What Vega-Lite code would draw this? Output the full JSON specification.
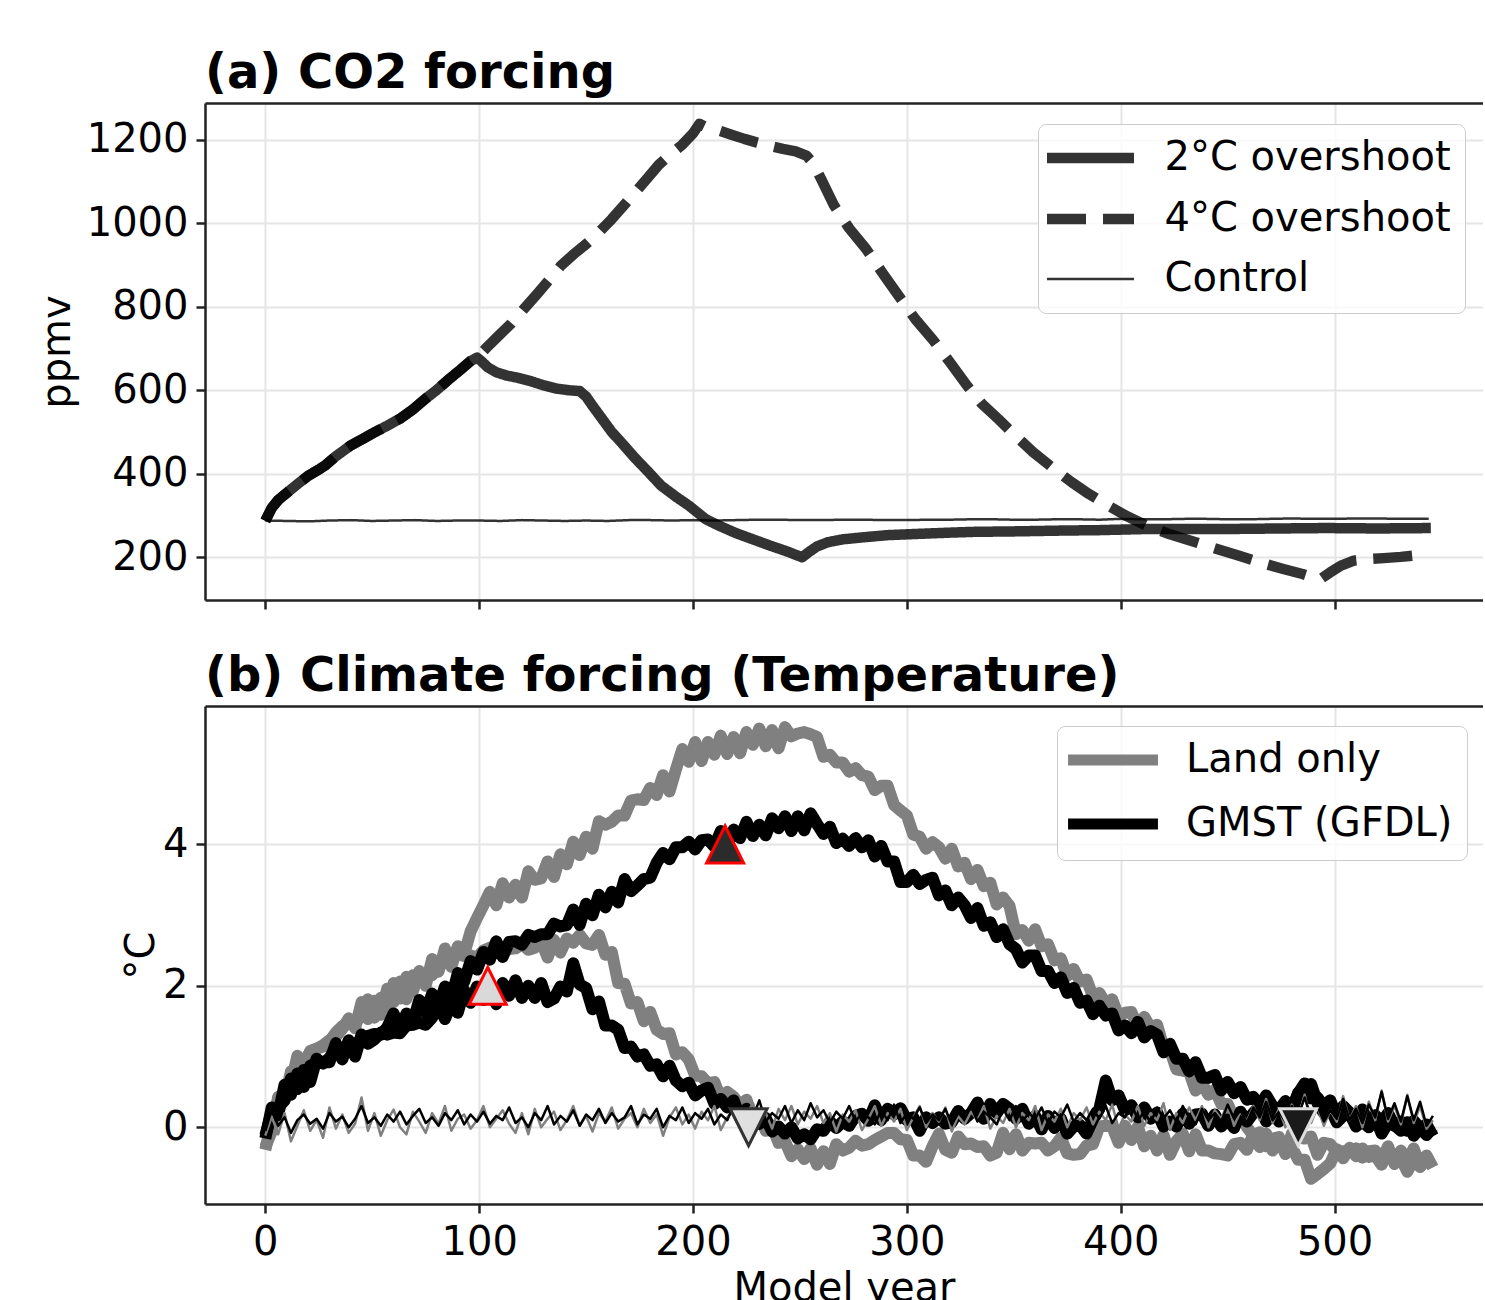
{
"$schema": "https://vega.github.io/schema/vega-lite/v6.json",
"background": "white",
"padding": {"left": 37, "top": 50, "right": 0, "bottom": 0},
"bounds": "flush",
"spacing": 106,
"resolve": {"scale": {"color": "independent", "strokeDash": "independent", "fill": "independent", "stroke": "independent", "shape": "independent"}, "legend": {"color": "independent", "strokeDash": "independent", "fill": "independent", "stroke": "independent", "shape": "independent"}},
"config": {
"font": "DejaVu Sans",
"view": {"stroke": null},
"axis": {"labelFont": "DejaVu Sans", "labelFontSize": 40, "labelColor": "#000000", "titleFont": "DejaVu Sans", "titleFontSize": 40, "titleFontWeight": "normal", "titleColor": "#000000", "domainColor": "#222222", "domainWidth": 2.5, "tickColor": "#222222", "tickWidth": 2.5, "tickSize": 9, "gridColor": "#e5e5e5", "gridWidth": 2, "labelPadding": 8, "labelFlush": false, "labelOverlap": false},
"legend": {"labelFont": "DejaVu Sans", "labelFontSize": 40, "labelColor": "#000000", "labelLimit": 600},
"title": {"font": "DejaVu Sans", "fontSize": 48, "fontWeight": "bold", "color": "#000000", "anchor": "start", "frame": "group", "baseline": "alphabetic", "offset": 5}
},
"datasets": {
"co2": [
{"yr":0,"ppm":287,"s":"2°C overshoot"},{"yr":3,"ppm":318,"s":"2°C overshoot"},{"yr":6,"ppm":337,"s":"2°C overshoot"},{"yr":10,"ppm":354,"s":"2°C overshoot"},{"yr":15,"ppm":375,"s":"2°C overshoot"},{"yr":20,"ppm":395,"s":"2°C overshoot"},{"yr":25,"ppm":410,"s":"2°C overshoot"},{"yr":28,"ppm":420,"s":"2°C overshoot"},{"yr":33,"ppm":442,"s":"2°C overshoot"},{"yr":40,"ppm":468,"s":"2°C overshoot"},{"yr":45,"ppm":482,"s":"2°C overshoot"},{"yr":51,"ppm":499,"s":"2°C overshoot"},{"yr":57,"ppm":515,"s":"2°C overshoot"},{"yr":63,"ppm":532,"s":"2°C overshoot"},{"yr":69,"ppm":554,"s":"2°C overshoot"},{"yr":75,"ppm":580,"s":"2°C overshoot"},{"yr":80,"ppm":600,"s":"2°C overshoot"},{"yr":86,"ppm":627,"s":"2°C overshoot"},{"yr":91,"ppm":648,"s":"2°C overshoot"},{"yr":96,"ppm":670,"s":"2°C overshoot"},{"yr":99,"ppm":678,"s":"2°C overshoot"},
{"yr":101,"ppm":670,"s":"2°C overshoot"},{"yr":104,"ppm":655,"s":"2°C overshoot"},{"yr":108,"ppm":643,"s":"2°C overshoot"},{"yr":113,"ppm":635,"s":"2°C overshoot"},{"yr":118,"ppm":630,"s":"2°C overshoot"},{"yr":124,"ppm":622,"s":"2°C overshoot"},{"yr":130,"ppm":612,"s":"2°C overshoot"},{"yr":136,"ppm":604,"s":"2°C overshoot"},{"yr":142,"ppm":600,"s":"2°C overshoot"},{"yr":147,"ppm":598,"s":"2°C overshoot"},{"yr":150,"ppm":585,"s":"2°C overshoot"},{"yr":153,"ppm":563,"s":"2°C overshoot"},{"yr":157,"ppm":535,"s":"2°C overshoot"},{"yr":162,"ppm":500,"s":"2°C overshoot"},{"yr":167,"ppm":472,"s":"2°C overshoot"},{"yr":173,"ppm":437,"s":"2°C overshoot"},{"yr":179,"ppm":405,"s":"2°C overshoot"},{"yr":185,"ppm":372,"s":"2°C overshoot"},{"yr":192,"ppm":345,"s":"2°C overshoot"},{"yr":198,"ppm":324,"s":"2°C overshoot"},{"yr":206,"ppm":291,"s":"2°C overshoot"},{"yr":212,"ppm":276,"s":"2°C overshoot"},{"yr":220,"ppm":258,"s":"2°C overshoot"},{"yr":228,"ppm":243,"s":"2°C overshoot"},{"yr":236,"ppm":228,"s":"2°C overshoot"},{"yr":244,"ppm":214,"s":"2°C overshoot"},{"yr":251,"ppm":200,"s":"2°C overshoot"},{"yr":254,"ppm":212,"s":"2°C overshoot"},{"yr":258,"ppm":226,"s":"2°C overshoot"},{"yr":263,"ppm":236,"s":"2°C overshoot"},{"yr":270,"ppm":243,"s":"2°C overshoot"},{"yr":280,"ppm":248,"s":"2°C overshoot"},{"yr":291,"ppm":253,"s":"2°C overshoot"},{"yr":305,"ppm":256,"s":"2°C overshoot"},{"yr":320,"ppm":259,"s":"2°C overshoot"},{"yr":332,"ppm":261,"s":"2°C overshoot"},{"yr":350,"ppm":262,"s":"2°C overshoot"},{"yr":373,"ppm":264,"s":"2°C overshoot"},{"yr":390,"ppm":265,"s":"2°C overshoot"},{"yr":414,"ppm":268,"s":"2°C overshoot"},{"yr":435,"ppm":268,"s":"2°C overshoot"},{"yr":455,"ppm":268,"s":"2°C overshoot"},{"yr":475,"ppm":269,"s":"2°C overshoot"},{"yr":496,"ppm":270,"s":"2°C overshoot"},{"yr":520,"ppm":269,"s":"2°C overshoot"},{"yr":545,"ppm":270,"s":"2°C overshoot"},
{"yr":0,"ppm":287,"s":"4°C overshoot"},{"yr":3,"ppm":318,"s":"4°C overshoot"},{"yr":6,"ppm":337,"s":"4°C overshoot"},{"yr":10,"ppm":354,"s":"4°C overshoot"},{"yr":15,"ppm":375,"s":"4°C overshoot"},{"yr":20,"ppm":395,"s":"4°C overshoot"},{"yr":25,"ppm":410,"s":"4°C overshoot"},{"yr":28,"ppm":420,"s":"4°C overshoot"},{"yr":33,"ppm":442,"s":"4°C overshoot"},{"yr":40,"ppm":468,"s":"4°C overshoot"},{"yr":45,"ppm":482,"s":"4°C overshoot"},{"yr":51,"ppm":499,"s":"4°C overshoot"},{"yr":57,"ppm":515,"s":"4°C overshoot"},{"yr":63,"ppm":532,"s":"4°C overshoot"},{"yr":69,"ppm":554,"s":"4°C overshoot"},{"yr":75,"ppm":580,"s":"4°C overshoot"},{"yr":80,"ppm":600,"s":"4°C overshoot"},{"yr":86,"ppm":627,"s":"4°C overshoot"},{"yr":91,"ppm":648,"s":"4°C overshoot"},{"yr":96,"ppm":670,"s":"4°C overshoot"},{"yr":99,"ppm":678,"s":"4°C overshoot"},
{"yr":100,"ppm":683,"s":"4°C overshoot"},{"yr":104,"ppm":705,"s":"4°C overshoot"},{"yr":110,"ppm":735,"s":"4°C overshoot"},{"yr":115,"ppm":760,"s":"4°C overshoot"},{"yr":121,"ppm":795,"s":"4°C overshoot"},{"yr":127,"ppm":830,"s":"4°C overshoot"},{"yr":133,"ppm":866,"s":"4°C overshoot"},{"yr":138,"ppm":897,"s":"4°C overshoot"},{"yr":144,"ppm":925,"s":"4°C overshoot"},{"yr":150,"ppm":950,"s":"4°C overshoot"},{"yr":156,"ppm":978,"s":"4°C overshoot"},{"yr":162,"ppm":1010,"s":"4°C overshoot"},{"yr":168,"ppm":1045,"s":"4°C overshoot"},{"yr":174,"ppm":1080,"s":"4°C overshoot"},{"yr":179,"ppm":1110,"s":"4°C overshoot"},{"yr":184,"ppm":1140,"s":"4°C overshoot"},{"yr":189,"ppm":1163,"s":"4°C overshoot"},{"yr":195,"ppm":1188,"s":"4°C overshoot"},{"yr":200,"ppm":1215,"s":"4°C overshoot"},{"yr":203,"ppm":1238,"s":"4°C overshoot"},{"yr":207,"ppm":1228,"s":"4°C overshoot"},{"yr":212,"ppm":1222,"s":"4°C overshoot"},{"yr":218,"ppm":1212,"s":"4°C overshoot"},{"yr":224,"ppm":1202,"s":"4°C overshoot"},{"yr":230,"ppm":1193,"s":"4°C overshoot"},{"yr":236,"ppm":1185,"s":"4°C overshoot"},{"yr":242,"ppm":1178,"s":"4°C overshoot"},{"yr":248,"ppm":1172,"s":"4°C overshoot"},{"yr":253,"ppm":1162,"s":"4°C overshoot"},{"yr":256,"ppm":1145,"s":"4°C overshoot"},{"yr":260,"ppm":1105,"s":"4°C overshoot"},{"yr":266,"ppm":1042,"s":"4°C overshoot"},{"yr":273,"ppm":988,"s":"4°C overshoot"},{"yr":281,"ppm":938,"s":"4°C overshoot"},{"yr":289,"ppm":878,"s":"4°C overshoot"},{"yr":297,"ppm":820,"s":"4°C overshoot"},{"yr":304,"ppm":770,"s":"4°C overshoot"},{"yr":312,"ppm":722,"s":"4°C overshoot"},{"yr":320,"ppm":668,"s":"4°C overshoot"},{"yr":328,"ppm":612,"s":"4°C overshoot"},{"yr":335,"ppm":568,"s":"4°C overshoot"},{"yr":343,"ppm":530,"s":"4°C overshoot"},{"yr":351,"ppm":490,"s":"4°C overshoot"},{"yr":359,"ppm":452,"s":"4°C overshoot"},{"yr":368,"ppm":415,"s":"4°C overshoot"},{"yr":377,"ppm":380,"s":"4°C overshoot"},{"yr":385,"ppm":352,"s":"4°C overshoot"},{"yr":394,"ppm":324,"s":"4°C overshoot"},{"yr":403,"ppm":298,"s":"4°C overshoot"},{"yr":412,"ppm":276,"s":"4°C overshoot"},{"yr":423,"ppm":255,"s":"4°C overshoot"},{"yr":435,"ppm":236,"s":"4°C overshoot"},{"yr":445,"ppm":220,"s":"4°C overshoot"},{"yr":455,"ppm":204,"s":"4°C overshoot"},{"yr":465,"ppm":188,"s":"4°C overshoot"},{"yr":476,"ppm":172,"s":"4°C overshoot"},{"yr":485,"ppm":160,"s":"4°C overshoot"},{"yr":491,"ppm":150,"s":"4°C overshoot"},{"yr":494,"ppm":150,"s":"4°C overshoot"},{"yr":498,"ppm":164,"s":"4°C overshoot"},{"yr":503,"ppm":180,"s":"4°C overshoot"},{"yr":509,"ppm":192,"s":"4°C overshoot"},{"yr":516,"ppm":196,"s":"4°C overshoot"},{"yr":523,"ppm":198,"s":"4°C overshoot"},{"yr":531,"ppm":201,"s":"4°C overshoot"},{"yr":539,"ppm":205,"s":"4°C overshoot"},
{"yr":0,"ppm":288,"s":"Control"},{"yr":10,"ppm":287,"s":"Control"},{"yr":20,"ppm":286,"s":"Control"},{"yr":30,"ppm":288,"s":"Control"},{"yr":40,"ppm":289,"s":"Control"},{"yr":50,"ppm":287,"s":"Control"},{"yr":60,"ppm":288,"s":"Control"},{"yr":70,"ppm":289,"s":"Control"},{"yr":80,"ppm":287,"s":"Control"},{"yr":90,"ppm":288,"s":"Control"},{"yr":100,"ppm":288,"s":"Control"},{"yr":110,"ppm":287,"s":"Control"},{"yr":120,"ppm":289,"s":"Control"},{"yr":130,"ppm":288,"s":"Control"},{"yr":140,"ppm":287,"s":"Control"},{"yr":150,"ppm":288,"s":"Control"},{"yr":160,"ppm":287,"s":"Control"},{"yr":170,"ppm":289,"s":"Control"},{"yr":180,"ppm":289,"s":"Control"},{"yr":190,"ppm":288,"s":"Control"},{"yr":200,"ppm":289,"s":"Control"},{"yr":210,"ppm":288,"s":"Control"},{"yr":220,"ppm":289,"s":"Control"},{"yr":230,"ppm":290,"s":"Control"},{"yr":240,"ppm":290,"s":"Control"},{"yr":250,"ppm":289,"s":"Control"},{"yr":260,"ppm":289,"s":"Control"},{"yr":270,"ppm":290,"s":"Control"},{"yr":280,"ppm":290,"s":"Control"},{"yr":290,"ppm":289,"s":"Control"},{"yr":300,"ppm":289,"s":"Control"},{"yr":310,"ppm":290,"s":"Control"},{"yr":320,"ppm":290,"s":"Control"},{"yr":330,"ppm":291,"s":"Control"},{"yr":340,"ppm":291,"s":"Control"},{"yr":350,"ppm":290,"s":"Control"},{"yr":360,"ppm":290,"s":"Control"},{"yr":370,"ppm":291,"s":"Control"},{"yr":380,"ppm":291,"s":"Control"},{"yr":390,"ppm":290,"s":"Control"},{"yr":400,"ppm":292,"s":"Control"},{"yr":410,"ppm":291,"s":"Control"},{"yr":420,"ppm":291,"s":"Control"},{"yr":430,"ppm":292,"s":"Control"},{"yr":440,"ppm":292,"s":"Control"},{"yr":450,"ppm":291,"s":"Control"},{"yr":460,"ppm":291,"s":"Control"},{"yr":470,"ppm":292,"s":"Control"},{"yr":480,"ppm":293,"s":"Control"},{"yr":490,"ppm":292,"s":"Control"},{"yr":500,"ppm":292,"s":"Control"},{"yr":510,"ppm":293,"s":"Control"},{"yr":520,"ppm":293,"s":"Control"},{"yr":530,"ppm":292,"s":"Control"},{"yr":544,"ppm":292,"s":"Control"}
],
"keys": [
{"k":"L2","var":"Land only"},{"k":"L4","var":"Land only"},{"k":"G2","var":"GMST (GFDL)"},{"k":"G4","var":"GMST (GFDL)"},{"k":"cL","var":"Land only"},{"k":"cG","var":"GMST (GFDL)"}
],
"marks": [
{"yr":104,"t":2.0,"m":"2°C reached"},{"yr":215,"t":4.0,"m":"4°C reached"},{"yr":226,"t":0.0,"m":"2°C run back to 0"},{"yr":483,"t":0.0,"m":"4°C run back to 0"}
],
"temp": [
{"yr":0,"L2":-0.32,"L4":-0.28,"G2":-0.16,"G4":-0.12,"cG":-0.05,"cL":-0.12},
{"yr":3,"L2":0.08,"L4":-0.06,"G2":0.28,"G4":0.21,"cG":0.25,"cL":0.15},
{"yr":6,"L2":0.32,"L4":0.43,"G2":0.17,"G4":0.28,"cG":0.02,"cL":-0.1},
{"yr":9,"L2":0.53,"L4":0.38,"G2":0.6,"G4":0.38,"cG":0.14,"cL":0.2},
{"yr":12,"L2":0.61,"L4":0.79,"G2":0.46,"G4":0.69,"cG":-0.08,"cL":-0.2},
{"yr":15,"L2":1.01,"L4":0.78,"G2":0.76,"G4":0.54,"cG":0.1,"cL":0.02},
{"yr":18,"L2":0.78,"L4":0.92,"G2":0.57,"G4":0.81,"cG":0.18,"cL":0.24},
{"yr":21,"L2":1.08,"L4":1.07,"G2":0.87,"G4":0.64,"cG":0.05,"cL":-0.05},
{"yr":24,"L2":1.11,"L4":1.11,"G2":0.91,"G4":0.97,"cG":0.12,"cL":0.1},
{"yr":27,"L2":1.16,"L4":1.14,"G2":0.92,"G4":0.9,"cG":-0.02,"cL":-0.15},
{"yr":30,"L2":1.23,"L4":1.21,"G2":0.92,"G4":0.98,"cG":0.2,"cL":0.28},
{"yr":33,"L2":1.28,"L4":1.34,"G2":1.19,"G4":1.12,"cG":0.08,"cL":-0.02},
{"yr":36,"L2":1.39,"L4":1.43,"G2":0.96,"G4":1.09,"cG":0.15,"cL":0.18},
{"yr":39,"L2":1.54,"L4":1.46,"G2":1.23,"G4":1.12,"cG":0.0,"cL":-0.08},
{"yr":42,"L2":1.4,"L4":1.49,"G2":1.0,"G4":1.15,"cG":0.12,"cL":0.05},
{"yr":45,"L2":1.77,"L4":1.57,"G2":1.31,"G4":1.26,"cG":0.3,"cL":0.42},
{"yr":48,"L2":1.53,"L4":1.81,"G2":1.18,"G4":1.29,"cG":0.06,"cL":-0.05},
{"yr":51,"L2":1.79,"L4":1.55,"G2":1.24,"G4":1.32,"cG":0.14,"cL":0.2},
{"yr":54,"L2":1.59,"L4":1.83,"G2":1.34,"G4":1.31,"cG":0.02,"cL":-0.12},
{"yr":57,"L2":1.96,"L4":1.66,"G2":1.31,"G4":1.41,"cG":0.18,"cL":0.1},
{"yr":60,"L2":1.77,"L4":2.04,"G2":1.34,"G4":1.61,"cG":0.08,"cL":0.25},
{"yr":63,"L2":2.06,"L4":1.82,"G2":1.33,"G4":1.39,"cG":0.22,"cL":0.0},
{"yr":66,"L2":1.81,"L4":2.13,"G2":1.44,"G4":1.61,"cG":0.04,"cL":-0.1},
{"yr":69,"L2":2.15,"L4":1.92,"G2":1.45,"G4":1.48,"cG":0.16,"cL":0.22},
{"yr":72,"L2":2.13,"L4":2.21,"G2":1.48,"G4":1.8,"cG":0.26,"cL":0.08},
{"yr":75,"L2":2.15,"L4":2.0,"G2":1.45,"G4":1.62,"cG":0.06,"cL":-0.08},
{"yr":78,"L2":2.15,"L4":2.38,"G2":1.55,"G4":1.89,"cG":0.14,"cL":0.2},
{"yr":81,"L2":2.26,"L4":2.2,"G2":1.73,"G4":1.72,"cG":0.02,"cL":0.05},
{"yr":84,"L2":2.36,"L4":2.53,"G2":1.53,"G4":1.99,"cG":0.2,"cL":0.3},
{"yr":87,"L2":2.41,"L4":2.27,"G2":1.75,"G4":1.82,"cG":0.1,"cL":-0.05},
{"yr":90,"L2":2.45,"L4":2.56,"G2":1.62,"G4":2.18,"cG":0.24,"cL":0.12},
{"yr":93,"L2":2.42,"L4":2.45,"G2":1.94,"G4":2.06,"cG":0.04,"cL":0.18},
{"yr":96,"L2":2.43,"L4":2.77,"G2":1.76,"G4":2.35,"cG":0.18,"cL":-0.02},
{"yr":99,"L2":2.4,"L4":2.96,"G2":1.99,"G4":2.23,"cG":0.08,"cL":0.1},
{"yr":102,"L2":2.5,"L4":3.14,"G2":1.8,"G4":2.48,"cG":0.22,"cL":0.3},
{"yr":105,"L2":2.54,"L4":3.33,"G2":1.98,"G4":2.37,"cG":0.05,"cL":0.0},
{"yr":108,"L2":2.57,"L4":3.14,"G2":1.74,"G4":2.63,"cG":0.16,"cL":0.12},
{"yr":111,"L2":2.47,"L4":3.45,"G2":2.04,"G4":2.41,"cG":0.1,"cL":0.24},
{"yr":114,"L2":2.52,"L4":3.25,"G2":1.86,"G4":2.62,"cG":0.28,"cL":0.05},
{"yr":117,"L2":2.53,"L4":3.43,"G2":2.08,"G4":2.63,"cG":0.06,"cL":-0.08},
{"yr":120,"L2":2.59,"L4":3.25,"G2":1.83,"G4":2.58,"cG":0.14,"cL":0.2},
{"yr":123,"L2":2.51,"L4":3.62,"G2":2.0,"G4":2.72,"cG":0.0,"cL":-0.1},
{"yr":126,"L2":2.54,"L4":3.5,"G2":1.83,"G4":2.69,"cG":0.2,"cL":0.26},
{"yr":129,"L2":2.63,"L4":3.52,"G2":2.04,"G4":2.73,"cG":0.1,"cL":0.0},
{"yr":132,"L2":2.4,"L4":3.76,"G2":1.77,"G4":2.73,"cG":0.3,"cL":0.12},
{"yr":135,"L2":2.65,"L4":3.54,"G2":1.82,"G4":2.88,"cG":0.04,"cL":0.22},
{"yr":138,"L2":2.47,"L4":3.86,"G2":1.99,"G4":2.84,"cG":0.16,"cL":-0.04},
{"yr":141,"L2":2.67,"L4":3.72,"G2":1.92,"G4":2.86,"cG":0.08,"cL":0.1},
{"yr":144,"L2":2.61,"L4":4.04,"G2":2.32,"G4":3.08,"cG":0.24,"cL":0.3},
{"yr":147,"L2":2.72,"L4":3.85,"G2":2.02,"G4":2.86,"cG":0.02,"cL":0.02},
{"yr":150,"L2":2.6,"L4":4.11,"G2":1.97,"G4":3.16,"cG":0.18,"cL":0.16},
{"yr":153,"L2":2.58,"L4":3.94,"G2":1.67,"G4":3.0,"cG":0.1,"cL":-0.06},
{"yr":156,"L2":2.72,"L4":4.33,"G2":1.78,"G4":3.29,"cG":0.26,"cL":0.2},
{"yr":159,"L2":2.44,"L4":4.28,"G2":1.44,"G4":3.11,"cG":0.06,"cL":0.08},
{"yr":162,"L2":2.48,"L4":4.32,"G2":1.44,"G4":3.33,"cG":0.2,"cL":0.28},
{"yr":165,"L2":2.04,"L4":4.41,"G2":1.38,"G4":3.18,"cG":0.08,"cL":-0.02},
{"yr":168,"L2":2.03,"L4":4.41,"G2":1.12,"G4":3.51,"cG":0.14,"cL":0.12},
{"yr":171,"L2":1.75,"L4":4.62,"G2":1.14,"G4":3.34,"cG":0.3,"cL":0.2},
{"yr":174,"L2":1.77,"L4":4.64,"G2":1.0,"G4":3.42,"cG":0.04,"cL":0.0},
{"yr":177,"L2":1.5,"L4":4.63,"G2":1.03,"G4":3.51,"cG":0.18,"cL":0.26},
{"yr":180,"L2":1.63,"L4":4.8,"G2":0.87,"G4":3.53,"cG":0.12,"cL":0.06},
{"yr":183,"L2":1.38,"L4":4.7,"G2":0.89,"G4":3.74,"cG":0.26,"cL":0.18},
{"yr":186,"L2":1.32,"L4":4.98,"G2":0.72,"G4":3.88,"cG":0.0,"cL":-0.12},
{"yr":189,"L2":1.33,"L4":4.75,"G2":0.87,"G4":3.79,"cG":0.16,"cL":0.14},
{"yr":192,"L2":1.03,"L4":5.06,"G2":0.66,"G4":3.96,"cG":0.1,"cL":0.28},
{"yr":195,"L2":1.06,"L4":5.35,"G2":0.58,"G4":3.96,"cG":0.28,"cL":0.04},
{"yr":198,"L2":0.96,"L4":5.17,"G2":0.63,"G4":4.04,"cG":0.06,"cL":0.18},
{"yr":201,"L2":0.73,"L4":5.45,"G2":0.45,"G4":3.93,"cG":0.2,"cL":-0.02},
{"yr":204,"L2":0.72,"L4":5.18,"G2":0.52,"G4":4.06,"cG":0.12,"cL":0.22},
{"yr":207,"L2":0.62,"L4":5.45,"G2":0.56,"G4":4.07,"cG":0.26,"cL":0.1},
{"yr":210,"L2":0.64,"L4":5.27,"G2":0.33,"G4":3.97,"cG":0.04,"cL":0.3},
{"yr":213,"L2":0.41,"L4":5.54,"G2":0.4,"G4":4.19,"cG":0.18,"cL":-0.04},
{"yr":216,"L2":0.5,"L4":5.28,"G2":0.28,"G4":3.98,"cG":0.1,"cL":0.14},
{"yr":219,"L2":0.43,"L4":5.52,"G2":0.38,"G4":4.21,"cG":0.3,"cL":0.24},
{"yr":222,"L2":0.31,"L4":5.29,"G2":0.13,"G4":4.09,"cG":0.06,"cL":0.02},
{"yr":225,"L2":0.39,"L4":5.59,"G2":0.26,"G4":4.32,"cG":0.22,"cL":0.18},
{"yr":228,"L2":0.1,"L4":5.41,"G2":0.13,"G4":4.12,"cG":0.14,"cL":0.34},
{"yr":231,"L2":0.15,"L4":5.64,"G2":0.05,"G4":4.28,"cG":0.38,"cL":0.08},
{"yr":234,"L2":-0.05,"L4":5.39,"G2":0.13,"G4":4.13,"cG":0.08,"cL":0.2},
{"yr":237,"L2":0.02,"L4":5.62,"G2":-0.06,"G4":4.37,"cG":0.2,"cL":-0.02},
{"yr":240,"L2":-0.22,"L4":5.36,"G2":0.01,"G4":4.23,"cG":0.12,"cL":0.26},
{"yr":243,"L2":-0.2,"L4":5.66,"G2":-0.09,"G4":4.4,"cG":0.3,"cL":0.1},
{"yr":246,"L2":-0.41,"L4":5.53,"G2":0.0,"G4":4.19,"cG":0.06,"cL":0.3},
{"yr":249,"L2":-0.31,"L4":5.57,"G2":-0.16,"G4":4.4,"cG":0.24,"cL":0.04},
{"yr":252,"L2":-0.45,"L4":5.59,"G2":-0.1,"G4":4.2,"cG":0.1,"cL":0.22},
{"yr":255,"L2":-0.3,"L4":5.56,"G2":-0.17,"G4":4.44,"cG":0.34,"cL":0.12},
{"yr":258,"L2":-0.53,"L4":5.52,"G2":-0.03,"G4":4.29,"cG":0.14,"cL":0.3},
{"yr":261,"L2":-0.34,"L4":5.24,"G2":-0.05,"G4":4.15,"cG":0.24,"cL":0.06},
{"yr":264,"L2":-0.52,"L4":5.27,"G2":0.08,"G4":4.25,"cG":0.06,"cL":0.2},
{"yr":267,"L2":-0.24,"L4":5.16,"G2":-0.01,"G4":4.02,"cG":0.22,"cL":-0.06},
{"yr":270,"L2":-0.33,"L4":5.16,"G2":0.08,"G4":4.08,"cG":0.12,"cL":0.18},
{"yr":273,"L2":-0.29,"L4":5.03,"G2":0.02,"G4":3.98,"cG":0.3,"cL":0.08},
{"yr":276,"L2":-0.19,"L4":5.08,"G2":0.16,"G4":4.09,"cG":0.08,"cL":0.24},
{"yr":279,"L2":-0.26,"L4":4.98,"G2":0.19,"G4":3.96,"cG":0.2,"cL":-0.04},
{"yr":282,"L2":-0.24,"L4":4.96,"G2":0.09,"G4":4.06,"cG":0.14,"cL":0.12},
{"yr":285,"L2":-0.18,"L4":4.77,"G2":0.31,"G4":3.83,"cG":0.04,"cL":0.3},
{"yr":288,"L2":-0.13,"L4":4.83,"G2":0.1,"G4":3.98,"cG":0.24,"cL":0.02},
{"yr":291,"L2":-0.08,"L4":4.83,"G2":0.26,"G4":3.76,"cG":0.1,"cL":0.2},
{"yr":294,"L2":-0.08,"L4":4.56,"G2":0.18,"G4":3.76,"cG":0.32,"cL":0.08},
{"yr":297,"L2":-0.17,"L4":4.48,"G2":0.27,"G4":3.47,"cG":0.06,"cL":0.26},
{"yr":300,"L2":-0.18,"L4":4.41,"G2":0.1,"G4":3.47,"cG":0.2,"cL":-0.04},
{"yr":303,"L2":-0.4,"L4":4.14,"G2":0.14,"G4":3.57,"cG":0.12,"cL":0.14},
{"yr":306,"L2":-0.4,"L4":4.11,"G2":-0.05,"G4":3.44,"cG":0.28,"cL":0.3},
{"yr":309,"L2":-0.49,"L4":3.94,"G2":0.14,"G4":3.5,"cG":0.06,"cL":0.0},
{"yr":312,"L2":-0.27,"L4":4.03,"G2":0.06,"G4":3.53,"cG":0.18,"cL":0.2},
{"yr":315,"L2":-0.09,"L4":3.96,"G2":0.14,"G4":3.28,"cG":0.1,"cL":0.08},
{"yr":318,"L2":-0.32,"L4":3.8,"G2":0.05,"G4":3.35,"cG":0.26,"cL":0.28},
{"yr":321,"L2":-0.36,"L4":3.94,"G2":0.07,"G4":3.14,"cG":0.04,"cL":-0.06},
{"yr":324,"L2":-0.13,"L4":3.69,"G2":0.23,"G4":3.25,"cG":0.2,"cL":0.16},
{"yr":327,"L2":-0.24,"L4":3.74,"G2":0.12,"G4":3.14,"cG":0.12,"cL":0.04},
{"yr":330,"L2":-0.23,"L4":3.51,"G2":0.2,"G4":2.96,"cG":0.3,"cL":0.22},
{"yr":333,"L2":-0.28,"L4":3.64,"G2":0.35,"G4":3.1,"cG":0.08,"cL":0.1},
{"yr":336,"L2":-0.27,"L4":3.41,"G2":0.12,"G4":2.85,"cG":0.22,"cL":0.3},
{"yr":339,"L2":-0.4,"L4":3.46,"G2":0.33,"G4":2.9,"cG":0.14,"cL":-0.02},
{"yr":342,"L2":-0.36,"L4":3.15,"G2":0.2,"G4":2.69,"cG":0.04,"cL":0.16},
{"yr":345,"L2":-0.08,"L4":3.25,"G2":0.33,"G4":2.8,"cG":0.26,"cL":0.06},
{"yr":348,"L2":-0.31,"L4":3.13,"G2":0.26,"G4":2.59,"cG":0.1,"cL":0.26},
{"yr":351,"L2":-0.1,"L4":2.73,"G2":0.12,"G4":2.52,"cG":0.3,"cL":0.0},
{"yr":354,"L2":-0.33,"L4":2.79,"G2":0.26,"G4":2.33,"cG":0.08,"cL":0.2},
{"yr":357,"L2":-0.22,"L4":2.64,"G2":0.05,"G4":2.43,"cG":0.2,"cL":0.1},
{"yr":360,"L2":-0.23,"L4":2.8,"G2":0.16,"G4":2.43,"cG":0.12,"cL":0.3},
{"yr":363,"L2":-0.22,"L4":2.56,"G2":-0.03,"G4":2.21,"cG":0.28,"cL":-0.04},
{"yr":366,"L2":-0.33,"L4":2.59,"G2":0.16,"G4":2.21,"cG":0.06,"cL":0.18},
{"yr":369,"L2":-0.27,"L4":2.36,"G2":-0.01,"G4":2.04,"cG":0.22,"cL":0.08},
{"yr":372,"L2":-0.15,"L4":2.39,"G2":0.12,"G4":2.12,"cG":0.14,"cL":0.26},
{"yr":375,"L2":-0.37,"L4":2.14,"G2":-0.09,"G4":1.9,"cG":0.32,"cL":0.0},
{"yr":378,"L2":-0.39,"L4":2.24,"G2":0.01,"G4":1.97,"cG":0.08,"cL":0.2},
{"yr":381,"L2":-0.38,"L4":2.06,"G2":0.03,"G4":1.76,"cG":0.2,"cL":0.1},
{"yr":384,"L2":-0.26,"L4":2.09,"G2":-0.09,"G4":1.79,"cG":0.1,"cL":0.28},
{"yr":387,"L2":-0.24,"L4":1.85,"G2":0.11,"G4":1.6,"cG":0.26,"cL":0.04},
{"yr":390,"L2":0.01,"L4":1.9,"G2":0.26,"G4":1.72,"cG":0.12,"cL":0.22},
{"yr":393,"L2":0.02,"L4":1.75,"G2":0.66,"G4":1.58,"cG":0.3,"cL":0.1},
{"yr":396,"L2":0.01,"L4":1.81,"G2":0.38,"G4":1.61,"cG":0.06,"cL":0.32},
{"yr":399,"L2":-0.22,"L4":1.57,"G2":0.45,"G4":1.37,"cG":0.2,"cL":-0.02},
{"yr":402,"L2":0.02,"L4":1.62,"G2":0.24,"G4":1.44,"cG":0.14,"cL":0.18},
{"yr":405,"L2":-0.18,"L4":1.63,"G2":0.31,"G4":1.33,"cG":0.34,"cL":0.08},
{"yr":408,"L2":0.01,"L4":1.42,"G2":0.14,"G4":1.49,"cG":0.1,"cL":0.3},
{"yr":411,"L2":-0.27,"L4":1.56,"G2":0.28,"G4":1.27,"cG":0.22,"cL":0.02},
{"yr":414,"L2":-0.12,"L4":1.41,"G2":0.12,"G4":1.36,"cG":0.06,"cL":0.2},
{"yr":417,"L2":-0.33,"L4":1.45,"G2":0.21,"G4":1.31,"cG":0.28,"cL":0.1},
{"yr":420,"L2":-0.11,"L4":1.13,"G2":0.01,"G4":1.06,"cG":0.12,"cL":0.34},
{"yr":423,"L2":-0.39,"L4":1.1,"G2":0.08,"G4":1.18,"cG":0.24,"cL":-0.04},
{"yr":426,"L2":-0.2,"L4":0.82,"G2":0.01,"G4":0.97,"cG":0.08,"cL":0.2},
{"yr":429,"L2":-0.09,"L4":0.8,"G2":0.19,"G4":0.97,"cG":0.3,"cL":0.06},
{"yr":432,"L2":-0.34,"L4":0.78,"G2":0.05,"G4":0.79,"cG":0.14,"cL":0.28},
{"yr":435,"L2":-0.1,"L4":0.52,"G2":0.18,"G4":0.92,"cG":0.04,"cL":0.1},
{"yr":438,"L2":-0.33,"L4":0.62,"G2":0.19,"G4":0.7,"cG":0.26,"cL":0.3},
{"yr":441,"L2":-0.33,"L4":0.46,"G2":0.02,"G4":0.7,"cG":0.1,"cL":0.0},
{"yr":444,"L2":-0.37,"L4":0.53,"G2":0.18,"G4":0.74,"cG":0.2,"cL":0.24},
{"yr":447,"L2":-0.38,"L4":0.33,"G2":0.01,"G4":0.52,"cG":0.08,"cL":0.12},
{"yr":450,"L2":-0.4,"L4":0.33,"G2":0.11,"G4":0.64,"cG":0.32,"cL":0.34},
{"yr":453,"L2":-0.24,"L4":0.12,"G2":-0.01,"G4":0.48,"cG":0.12,"cL":0.02},
{"yr":456,"L2":-0.22,"L4":0.21,"G2":0.22,"G4":0.57,"cG":0.24,"cL":0.22},
{"yr":459,"L2":-0.32,"L4":0.0,"G2":0.08,"G4":0.39,"cG":0.06,"cL":0.08},
{"yr":462,"L2":-0.1,"L4":-0.12,"G2":0.2,"G4":0.43,"cG":0.28,"cL":0.3},
{"yr":465,"L2":-0.28,"L4":-0.07,"G2":0.3,"G4":0.3,"cG":0.14,"cL":0.1},
{"yr":468,"L2":-0.09,"L4":-0.27,"G2":0.08,"G4":0.45,"cG":0.36,"cL":0.4},
{"yr":471,"L2":-0.33,"L4":-0.16,"G2":0.2,"G4":0.3,"cG":0.1,"cL":0.06},
{"yr":474,"L2":-0.17,"L4":-0.14,"G2":0.08,"G4":0.24,"cG":0.22,"cL":0.26},
{"yr":477,"L2":-0.38,"L4":-0.33,"G2":0.25,"G4":0.37,"cG":0.08,"cL":0.0},
{"yr":480,"L2":-0.09,"L4":-0.28,"G2":0.21,"G4":0.27,"cG":0.3,"cL":0.32},
{"yr":483,"L2":-0.14,"L4":-0.46,"G2":0.49,"G4":0.48,"cG":0.16,"cL":0.12},
{"yr":486,"L2":-0.16,"L4":-0.46,"G2":0.52,"G4":0.62,"cG":0.42,"cL":0.46},
{"yr":489,"L2":-0.13,"L4":-0.73,"G2":0.61,"G4":0.41,"cG":0.14,"cL":0.06},
{"yr":492,"L2":-0.39,"L4":-0.66,"G2":0.34,"G4":0.42,"cG":0.3,"cL":0.28},
{"yr":495,"L2":-0.22,"L4":-0.59,"G2":0.2,"G4":0.3,"cG":0.08,"cL":0.02},
{"yr":498,"L2":-0.24,"L4":-0.51,"G2":0.27,"G4":0.38,"cG":0.24,"cL":0.24},
{"yr":501,"L2":-0.35,"L4":-0.31,"G2":0.07,"G4":0.15,"cG":0.12,"cL":0.08},
{"yr":504,"L2":-0.34,"L4":-0.44,"G2":0.16,"G4":0.3,"cG":0.4,"cL":0.44},
{"yr":507,"L2":-0.34,"L4":-0.29,"G2":0.2,"G4":0.21,"cG":0.1,"cL":0.1},
{"yr":510,"L2":-0.3,"L4":-0.41,"G2":0.01,"G4":0.13,"cG":0.26,"cL":0.3},
{"yr":513,"L2":-0.43,"L4":-0.3,"G2":0.08,"G4":0.25,"cG":0.06,"cL":0.0},
{"yr":516,"L2":-0.34,"L4":-0.42,"G2":0.0,"G4":0.06,"cG":0.32,"cL":0.36},
{"yr":519,"L2":-0.33,"L4":-0.4,"G2":0.14,"G4":0.17,"cG":0.14,"cL":0.1},
{"yr":522,"L2":-0.47,"L4":-0.53,"G2":-0.09,"G4":0.07,"cG":0.5,"cL":0.52},
{"yr":525,"L2":-0.27,"L4":-0.33,"G2":0.06,"G4":0.2,"cG":0.12,"cL":0.08},
{"yr":528,"L2":-0.52,"L4":-0.49,"G2":0.03,"G4":0.02,"cG":0.34,"cL":0.3},
{"yr":531,"L2":-0.33,"L4":-0.44,"G2":-0.05,"G4":0.08,"cG":0.08,"cL":0.04},
{"yr":534,"L2":-0.49,"L4":-0.63,"G2":0.07,"G4":-0.05,"cG":0.44,"cL":0.46},
{"yr":537,"L2":-0.3,"L4":-0.46,"G2":-0.12,"G4":0.09,"cG":0.1,"cL":0.06},
{"yr":540,"L2":-0.56,"L4":-0.56,"G2":-0.01,"G4":-0.01,"cG":0.36,"cL":0.3},
{"yr":543,"L2":-0.4,"L4":-0.46,"G2":-0.11,"G4":0.04,"cG":0.02,"cL":-0.02},
{"yr":546,"L2":-0.57,"L4":-0.41,"G2":0.0,"G4":-0.13,"cG":0.16,"cL":0.1}
]
},
"vconcat": [
{
"width": 1278, "height": 497,
"title": {"text": "(a) CO2 forcing"},
"resolve": {"axis": {"x": "independent"}},
"layer": [
{
"data": {"name": "co2"},
"transform": [{"filter": {"field": "s", "equal": "Control"}}],
"mark": {"type": "line", "color": "#000000", "opacity": 0.8, "strokeWidth": 2.5, "strokeJoin": "round", "clip": true},
"encoding": {
"x": {"field": "yr", "type": "quantitative", "scale": {"domain": [-28.2, 569.4], "nice": false, "zero": false}, "axis": {"orient": "top", "labels": false, "ticks": false, "grid": false, "domain": true, "title": null}},
"y": {"field": "ppm", "type": "quantitative", "scale": {"domain": [97.7, 1287.9], "nice": false, "zero": false}, "axis": {"title": "ppmv", "values": [200, 400, 600, 800, 1000, 1200], "format": "d", "titlePadding": 9, "grid": true}},
"strokeDash": {"field": "s", "type": "nominal", "scale": {"domain": ["2°C overshoot", "4°C overshoot", "Control"], "range": [[1, 0], [39, 17], [1, 0]]},
"legend": {"title": null, "orient": "none", "legendX": 833, "legendY": 21, "padding": 14, "rowPadding": 19, "cornerRadius": 8, "strokeColor": "#cccccc", "fillColor": "rgba(255,255,255,0.8)", "symbolType": "M-3,0H3", "symbolSize": 841, "symbolOffset": 18.5, "labelOffset": 54, "labelFontSize": 40, "labelLimit": 600, "symbolStrokeColor": "#333333", "symbolOpacity": 1, "symbolStrokeWidth": {"expr": "(datum.value === 'Control' ? 2.5 : 10.5)"}}}
}
},
{
"data": {"name": "co2"},
"transform": [{"filter": {"field": "s", "oneOf": ["2°C overshoot", "4°C overshoot"]}}],
"mark": {"type": "line", "color": "#000000", "opacity": 0.8, "strokeWidth": 10.5, "strokeJoin": "round", "clip": true},
"encoding": {
"x": {"field": "yr", "type": "quantitative", "scale": {"domain": [-28.2, 569.4], "nice": false, "zero": false}, "axis": {"values": [0, 100, 200, 300, 400, 500], "labels": false, "title": null, "grid": true}},
"y": {"field": "ppm", "type": "quantitative", "scale": {"domain": [97.7, 1287.9], "nice": false, "zero": false}, "axis": {"title": "ppmv", "values": [200, 400, 600, 800, 1000, 1200], "format": "d", "titlePadding": 9, "grid": true}},
"strokeDash": {"field": "s", "type": "nominal", "scale": {"domain": ["2°C overshoot", "4°C overshoot", "Control"], "range": [[1, 0], [39, 17], [1, 0]]},
"legend": {"title": null, "orient": "none", "legendX": 833, "legendY": 21, "padding": 14, "rowPadding": 19, "cornerRadius": 8, "strokeColor": "#cccccc", "fillColor": "rgba(255,255,255,0.8)", "symbolType": "M-3,0H3", "symbolSize": 841, "symbolOffset": 18.5, "labelOffset": 54, "labelFontSize": 40, "labelLimit": 600, "symbolStrokeColor": "#333333", "symbolOpacity": 1, "symbolStrokeWidth": {"expr": "(datum.value === 'Control' ? 2.5 : 10.5)"}}}
}
}
]
},
{
"width": 1278, "height": 498,
"title": {"text": "(b) Climate forcing (Temperature)"},
"resolve": {"axis": {"x": "independent"}},
"layer": [
{
"data": {"name": "temp"},
"transform": [{"fold": ["L2", "L4", "G2", "G4"], "as": ["k", "t"]}, {"lookup": "k", "from": {"data": {"name": "keys"}, "key": "k", "fields": ["var"]}}],
"mark": {"type": "line", "strokeWidth": 12, "strokeJoin": "round", "clip": true},
"encoding": {
"x": {"field": "yr", "type": "quantitative", "scale": {"domain": [-28.2, 569.4], "nice": false, "zero": false}, "axis": {"values": [0, 100, 200, 300, 400, 500], "format": "d", "title": "Model year", "labelPadding": 9, "titlePadding": 6, "grid": true}},
"y": {"field": "t", "type": "quantitative", "scale": {"domain": [-1.086, 5.959], "nice": false, "zero": false}, "axis": {"title": "°C", "values": [0, 2, 4], "format": "d", "titlePadding": 1, "grid": true}},
"color": {"field": "var", "type": "nominal", "scale": {"domain": ["Land only", "GMST (GFDL)"], "range": ["#808080", "#000000"]},
"legend": {"title": null, "orient": "none", "legendX": 852, "legendY": 20, "padding": 14, "rowPadding": 20, "cornerRadius": 8, "strokeColor": "#cccccc", "fillColor": "rgba(255,255,255,0.8)", "symbolType": "M-3.1,0H3.1", "symbolSize": 841, "symbolStrokeWidth": 11, "symbolOffset": 22, "labelOffset": 53, "labelFontSize": 40, "labelLimit": 600}},
"detail": {"field": "k", "type": "nominal"}
}
},
{
"data": {"name": "temp"},
"transform": [{"fold": ["cL", "cG"], "as": ["k", "t"]}, {"lookup": "k", "from": {"data": {"name": "keys"}, "key": "k", "fields": ["var"]}}],
"mark": {"type": "line", "strokeWidth": 2.5, "strokeJoin": "round", "clip": true},
"encoding": {
"x": {"field": "yr", "type": "quantitative", "scale": {"domain": [-28.2, 569.4], "nice": false, "zero": false}, "axis": {"orient": "top", "labels": false, "ticks": false, "grid": false, "domain": true, "title": null}},
"y": {"field": "t", "type": "quantitative", "scale": {"domain": [-1.086, 5.959], "nice": false, "zero": false}, "axis": {"title": "°C", "values": [0, 2, 4], "format": "d", "titlePadding": 1, "grid": true}},
"color": {"field": "var", "type": "nominal", "scale": {"domain": ["Land only", "GMST (GFDL)"], "range": ["#808080", "#000000"]},
"legend": {"title": null, "orient": "none", "legendX": 852, "legendY": 20, "padding": 14, "rowPadding": 20, "cornerRadius": 8, "strokeColor": "#cccccc", "fillColor": "rgba(255,255,255,0.8)", "symbolType": "M-3.1,0H3.1", "symbolSize": 841, "symbolStrokeWidth": 11, "symbolOffset": 22, "labelOffset": 53, "labelFontSize": 40, "labelLimit": 600}},
"detail": {"field": "k", "type": "nominal"}
}
},
{
"data": {"name": "marks"},
"mark": {"type": "point", "filled": true, "size": 1369, "strokeWidth": 3, "opacity": 1, "strokeOpacity": 1, "fillOpacity": 1},
"encoding": {
"x": {"field": "yr", "type": "quantitative", "scale": {"domain": [-28.2, 569.4], "nice": false, "zero": false}, "axis": null},
"y": {"field": "t", "type": "quantitative", "scale": {"domain": [-1.086, 5.959], "nice": false, "zero": false}, "axis": {"title": "°C", "values": [0, 2, 4], "format": "d", "titlePadding": 1, "grid": true}},
"shape": {"field": "m", "type": "nominal", "scale": {"domain": ["2°C reached", "4°C reached", "2°C run back to 0", "4°C run back to 0"], "range": ["M0,-1L-1,1L1,1Z", "M0,-1L-1,1L1,1Z", "M0,1L-1,-1L1,-1Z", "M0,1L-1,-1L1,-1Z"]}, "legend": null},
"fill": {"field": "m", "type": "nominal", "scale": {"domain": ["2°C reached", "4°C reached", "2°C run back to 0", "4°C run back to 0"], "range": ["#d9d9d9", "#2b2b2b", "#e0e0e0", "#1a1a1a"]}, "legend": null},
"stroke": {"field": "m", "type": "nominal", "scale": {"domain": ["2°C reached", "4°C reached", "2°C run back to 0", "4°C run back to 0"], "range": ["#ff0000", "#ff0000", "#333333", "#dddddd"]}, "legend": null}
}
}
]
}
]
}
